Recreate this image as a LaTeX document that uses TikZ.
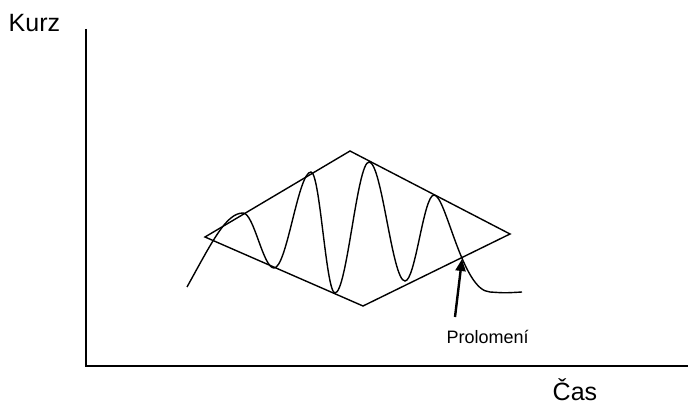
\documentclass[tikz,border=0pt]{standalone}
\usepackage{fontspec}
\setmainfont{Liberation Sans}
\usetikzlibrary{arrows.meta}
\begin{document}
\begin{tikzpicture}[x=1pt,y=-1pt,line width=1.4pt]
\useasboundingbox (0,0) rectangle (688,406);
\node[anchor=base west, inner sep=0pt, font=\fontsize{25}{30}\selectfont] (kurz) at (8,32) {Kurz};
\node[anchor=base west, inner sep=0pt, font=\fontsize{25}{30}\selectfont] (cas) at (552,400) {Čas};
\node[anchor=base west, inner sep=0pt, font=\fontsize{18}{22}\selectfont] (prol) at (446,343) {Prolomení};
\coordinate (o) at (86,366);
\draw (86,29) -- (o) -- (688,366);
\coordinate (l) at (205,237);
\coordinate (t) at (350,151);
\coordinate (r) at (510,234);
\coordinate (b) at (363,306);
\draw (l) -- (t) -- (r) -- (b) -- cycle;
\draw (187,287) .. controls (212,242) and (226,213) .. (243,213)
  .. controls (254,213) and (263,268) .. (274,268)
  .. controls (287,268) and (298,172) .. (311,172)
  .. controls (320,172) and (326,293) .. (335,293)
  .. controls (347,293) and (357,162) .. (369,162)
  .. controls (382,162) and (392,281) .. (405,281)
  .. controls (415.5,281) and (423.5,195) .. (434,195)
  .. controls (446,195) and (462,291) .. (490,292)
  .. controls (505,293) .. (522,292);
\coordinate (tail) at (455,317);
\coordinate (brk) at (462,259);
\draw[line width=2.4pt, -{Triangle[length=12pt,width=10pt]}] (tail) -- (brk);
\end{tikzpicture}
\end{document}
